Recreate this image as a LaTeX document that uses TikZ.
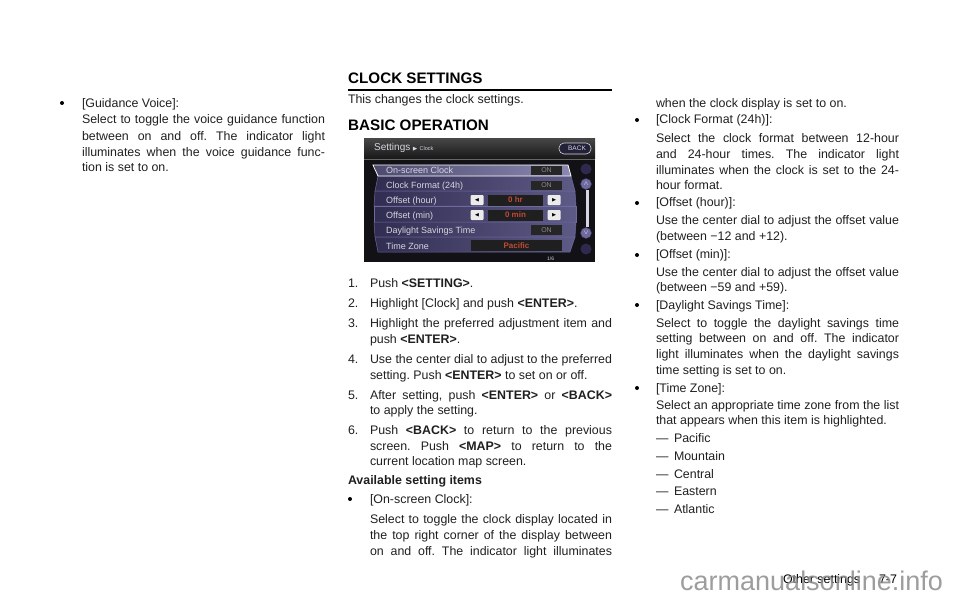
\documentclass[tikz,border=0pt]{standalone}
\usepackage{amssymb}
\usepackage{fontspec}
\setmainfont{Liberation Sans}
\usetikzlibrary{calc,positioning}
\definecolor{screenbg}{HTML}{121116}
\definecolor{rowdark}{HTML}{3A3560}
\definecolor{rowlight}{HTML}{6E6A9E}
\definecolor{valuered}{HTML}{C04A38}
\definecolor{soft}{HTML}{D6D6E0}
\frenchspacing
\tikzset{
  line/.style={anchor=base west,inner sep=0pt,outer sep=0pt,font=\fontsize{12.4}{15}\selectfont,text=black!88},
  head/.style={anchor=base west,inner sep=0pt,font=\fontsize{15.2}{18}\selectfont\bfseries},
  bull/.style={circle,fill=black,inner sep=0pt,minimum size=4pt},
  scr/.style={anchor=base west,inner sep=0pt,font=\fontsize{9}{10}\selectfont,text=soft},
  row/.style={left color=rowdark!85!black,right color=rowlight!85!black,draw=rowlight,line width=0.5pt},
  onbox/.style={fill=black!85,inner sep=0pt,minimum width=31pt,minimum height=9.5pt,font=\fontsize{7}{7}\selectfont,text=black!45},
  valbox/.style={fill=black!88,inner sep=0pt,minimum height=11pt,font=\fontsize{8}{8}\selectfont\bfseries,text=valuered},
  arr/.style={fill=black!8,rounded corners=1pt,inner sep=0pt,minimum width=13pt,minimum height=10pt,font=\fontsize{5}{5}\selectfont,text=black},
  knob/.style={circle,inner sep=0pt,minimum size=11pt,font=\fontsize{6}{6}\selectfont\bfseries,text=white},
}
\newcommand{\midl}[1]{\makebox[242pt][s]{#1}}
\newcommand{\rght}[1]{\makebox[243pt][s]{#1}}
\newcommand{\keyw}[1]{\textbf{#1}}
\begin{document}
\begin{tikzpicture}[x=1pt,y=-1pt]
  \useasboundingbox (0,0) rectangle (960,599);
  % left column
  \node[bull] (b0) at (62,103) {};
  \node[line] (g0) at (82,107) {[Guidance Voice]:};
  \node[line] (g1) at (82,124) {\rght{Select to toggle the voice guidance function}};
  \node[line] (g2) at (82,140) {\rght{between on and off. The indicator light}};
  \node[line] (g3) at (82,156) {\rght{illuminates when the voice guidance func-}};
  \node[line] (g4) at (82,171) {tion is set to on.};
  % middle column
  \node[head] (h1) at (348,84) {CLOCK SETTINGS};
  \draw[line width=2pt] (348,90) coordinate (r1) -- (612,90) coordinate (r2);
  \node[line] (m0) at (348,104) {This changes the clock settings.};
  \node[head] (h2) at (348,130) {BASIC OPERATION};
  % screen photo
  \fill[screenbg] (364,138) rectangle (595,262);
  \fill[top color=black!72,bottom color=black!90] (364,138) rectangle (595,158);
  \draw[black!60,line width=0.5pt] (364,159) -- (595,159);
  \node[anchor=base west,inner sep=0pt,font=\fontsize{10}{10}\selectfont,text=soft] (s0) at (374,150) {Settings};
  \node[anchor=base west,inner sep=0pt,font=\fontsize{5.5}{6}\selectfont,text=soft] (s1) at (412,150) {$\blacktriangleright$ Clock};
  \draw[soft,fill=rowdark!60!black,rounded corners=5pt,line width=0.6pt] (559,143) rectangle (591,154);
  \node[inner sep=0pt,font=\fontsize{6.5}{6}\selectfont,text=soft] (s2) at (577,148.5) {BACK};
  % rows
  \fill[row] (378,176) -- (571,176) -- (575,191) -- (375,191) -- cycle;
  \fill[row] (375,191) -- (575,191) -- (576,206) -- (374,206) -- cycle;
  \fill[row] (374,206) -- (576,206) -- (576,222) -- (374,222) -- cycle;
  \fill[row] (374,222) -- (576,222) -- (575,237) -- (375,237) -- cycle;
  \fill[row] (375,237) -- (575,237) -- (570,252) -- (378,252) -- cycle;
  \fill[left color=rowlight!70!black,right color=rowlight!80!white] (374,165) -- (568,165) -- (571,176) -- (378,176) -- cycle;
  \draw[white,line width=0.8pt] (373,165) -- (568,165) -- (571,176) -- (378,176) -- cycle;
  \node[scr] (t1) at (386,173) {On-screen Clock};
  \node[scr] (t2) at (386,188) {Clock Format (24h)};
  \node[scr] (t3) at (386,203) {Offset (hour)};
  \node[scr] (t4) at (386,218) {Offset (min)};
  \node[scr] (t5) at (386,233) {Daylight Savings Time};
  \node[scr] (t6) at (386,249) {Time Zone};
  \node[onbox] (o1) at (546.5,170.5) {ON};
  \node[onbox] (o2) at (546.5,185.5) {ON};
  \node[onbox] (o3) at (546.5,230) {ON};
  \node[arr] (a1) at (477,200) {$\blacktriangleleft$};
  \node[arr] (a2) at (554,200) {$\blacktriangleright$};
  \node[arr] (a3) at (477,215) {$\blacktriangleleft$};
  \node[arr] (a4) at (554,215) {$\blacktriangleright$};
  \node[valbox,minimum width=55pt] (v1) at (515.5,200) {0 hr};
  \node[valbox,minimum width=55pt] (v2) at (515.5,215) {0 min};
  \node[valbox,minimum width=91pt] (v3) at (516.5,245.5) {Pacific};
  \node[anchor=base west,inner sep=0pt,font=\fontsize{5}{5}\selectfont,text=soft] (pg) at (547,260) {1/6};
  % scrollbar
  \draw[soft,line width=3pt] (587,190) coordinate (sb1) -- (587,227) coordinate (sb2);
  \node[knob,fill=rowdark!80!black] (k1) at (586,169) {};
  \node[knob,fill=rowlight,draw=rowdark] (k2) at (586,184) {$\wedge$};
  \node[knob,fill=rowlight,draw=rowdark] (k3) at (586,233) {$\vee$};
  \node[knob,fill=rowdark!80!black] (k4) at (586,249) {};
  % steps
  \node[line] (n1) at (348,287) {1.};
  \node[line] (l1) at (370,287) {Push \keyw{<SETTING>}.};
  \node[line] (n2) at (348,307) {2.};
  \node[line] (l2) at (370,307) {Highlight [Clock] and push \keyw{<ENTER>}.};
  \node[line] (n3) at (348,327) {3.};
  \node[line] (l3) at (370,327) {\midl{Highlight the preferred adjustment item and}};
  \node[line] (l3b) at (370,343) {push \keyw{<ENTER>}.};
  \node[line] (n4) at (348,363) {4.};
  \node[line] (l4) at (370,363) {\midl{Use the center dial to adjust to the preferred}};
  \node[line] (l4b) at (370,379) {setting. Push \keyw{<ENTER>} to set on or off.};
  \node[line] (n5) at (348,399) {5.};
  \node[line] (l5) at (370,399) {\midl{After setting, push \keyw{<ENTER>} or \keyw{<BACK>}}};
  \node[line] (l5b) at (370,414) {to apply the setting.};
  \node[line] (n6) at (348,434) {6.};
  \node[line] (l6) at (370,434) {\midl{Push \keyw{<BACK>} to return to the previous}};
  \node[line] (l6b) at (370,450) {\midl{screen. Push \keyw{<MAP>} to return to the}};
  \node[line] (l6c) at (370,465) {current location map screen.};
  \node[line] (av) at (348,484) {\textbf{Available setting items}};
  \node[bull] (b1) at (350,499) {};
  \node[line] (c0) at (370,503) {[On-screen Clock]:};
  \node[line] (c1) at (370,523) {\midl{Select to toggle the clock display located in}};
  \node[line] (c2) at (370,539) {\midl{the top right corner of the display between}};
  \node[line] (c3) at (370,555) {\midl{on and off. The indicator light illuminates}};
  % right column
  \node[line] (d0) at (656,107) {when the clock display is set to on.};
  \node[bull] (b2) at (637,120) {};
  \node[line] (d1) at (656,124) {[Clock Format (24h)]:};
  \node[line] (d2) at (656,142) {\rght{Select the clock format between 12-hour}};
  \node[line] (d3) at (656,158) {\rght{and 24-hour times. The indicator light}};
  \node[line] (d4) at (656,174) {\rght{illuminates when the clock is set to the 24-}};
  \node[line] (d5) at (656,189) {hour format.};
  \node[bull] (b3) at (637,203) {};
  \node[line] (e1) at (656,206) {[Offset (hour)]:};
  \node[line] (e2) at (656,224) {\rght{Use the center dial to adjust the offset value}};
  \node[line] (e3) at (656,240) {(between −12 and +12).};
  \node[bull] (b4) at (637,255) {};
  \node[line] (f1) at (656,258) {[Offset (min)]:};
  \node[line] (f2) at (656,276) {\rght{Use the center dial to adjust the offset value}};
  \node[line] (f3) at (656,291) {(between −59 and +59).};
  \node[bull] (b5) at (637,305) {};
  \node[line] (j1) at (656,309) {[Daylight Savings Time]:};
  \node[line] (j2) at (656,327) {\rght{Select to toggle the daylight savings time}};
  \node[line] (j3) at (656,342) {\rght{setting between on and off. The indicator}};
  \node[line] (j4) at (656,358) {\rght{light illuminates when the daylight savings}};
  \node[line] (j5) at (656,374) {time setting is set to on.};
  \node[bull] (b6) at (637,388) {};
  \node[line] (z1) at (656,392) {[Time Zone]:};
  \node[line] (z2) at (656,409) {\rght{Select an appropriate time zone from the list}};
  \node[line] (z3) at (656,424) {that appears when this item is highlighted.};
  \foreach \yy/\nm/\tx in {442/z4/Pacific,460/z5/Mountain,478/z6/Central,495/z7/Eastern,513/z8/Atlantic}{
    \node[line] (\nm) at (674,\yy) {\tx};
    \node[line] (\nm d) at (656,\yy) {—};
  }
  % footer
  \node[line,text=black] (ft) at (783,583) {Other settings};
  \node[line,text=black] (pn) at (879,583) {7-7};
  \node[anchor=base west,inner sep=0pt,font=\fontsize{27}{30}\selectfont,text=black!45,opacity=0.85] (wm) at (680,590) {carmanualsonline.info};
\end{tikzpicture}
\end{document}
